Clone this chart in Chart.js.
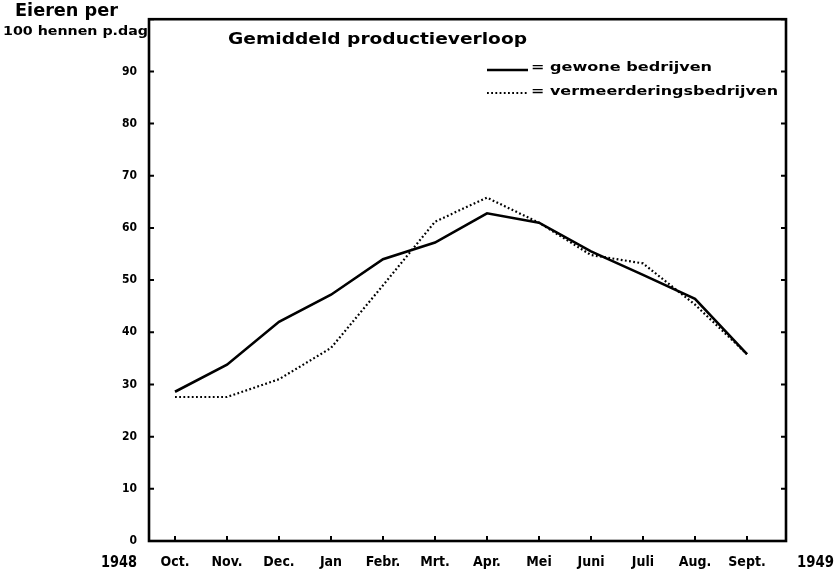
<!DOCTYPE html>
<html>
<head>
<meta charset="utf-8">
<script src="https://cdn.jsdelivr.net/npm/chart.js@4.4.1/dist/chart.umd.min.js"></script>
<style>
  html, body { margin: 0; padding: 0; background: #fff; }
  #c { display: block; }
</style>
</head>
<body>
<canvas id="c" width="839" height="578"></canvas>
<script>
// ---- data ----
const categories = ['Oct.', 'Nov.', 'Dec.', 'Jan', 'Febr.', 'Mrt.', 'Apr.', 'Mei', 'Juni', 'Juli', 'Aug.', 'Sept.'];
const gewone = [28.6, 33.8, 42, 47.2, 54, 57.2, 62.8, 61, 55.5, 51, 46.4, 35.8];
const vermeerdering = [27.6, 27.6, 31, 37, 49, 61.2, 65.8, 61, 54.8, 53.2, 45.3, 35.8];
const yTicks = [0, 10, 20, 30, 40, 50, 60, 70, 80, 90];
const seriesNames = ['= gewone bedrijven', '= vermeerderingsbedrijven'];
const titleText = 'Gemiddeld productieverloop';
const yTitle = ['Eieren per', '100 hennen p.dag'];
const years = ['1948', '1949'];

const FONT = '"DejaVu Sans Condensed", "DejaVu Sans", sans-serif';

function fitText(ctx, text, x, y, width, font) {
  ctx.save();
  ctx.font = font;
  ctx.textAlign = 'left';
  ctx.textBaseline = 'middle';
  const w = ctx.measureText(text).width;
  const s = width / w;
  ctx.translate(x, y);
  ctx.scale(s, 1);
  ctx.fillText(text, 0, 0);
  ctx.restore();
}

const decor = {
  id: 'decor',
  afterDraw(chart) {
    const ctx = chart.ctx;
    const a = chart.chartArea;
    const xs = chart.scales.x, ys = chart.scales.y;
    ctx.save();
    ctx.fillStyle = '#000';
    ctx.strokeStyle = '#000';
    // frame
    ctx.lineWidth = 2.6;
    ctx.strokeRect(a.left, a.top, a.right - a.left, a.bottom - a.top);
    // inner ticks
    ctx.lineWidth = 2;
    for (let v = 0; v <= 100; v += 10) {
      const py = ys.getPixelForValue(v);
      ctx.beginPath();
      ctx.moveTo(a.left, py); ctx.lineTo(a.left + 5, py);
      ctx.moveTo(a.right, py); ctx.lineTo(a.right - 5, py);
      ctx.stroke();
    }
    categories.forEach((c, i) => {
      const px = xs.getPixelForValue(i);
      ctx.beginPath();
      ctx.moveTo(px, a.bottom); ctx.lineTo(px, a.bottom - 5);
      ctx.stroke();
    });
    // title
    fitText(ctx, titleText, 228, 40, 299, 'bold 15px ' + FONT);
    // legend
    const ds = chart.data.datasets;
    const ly = [70, 93];
    ds.forEach((d, i) => {
      ctx.save();
      ctx.lineWidth = d.borderWidth;
      ctx.setLineDash(d.borderDash || []);
      ctx.beginPath();
      ctx.moveTo(487, ly[i]); ctx.lineTo(528, ly[i]);
      ctx.stroke();
      ctx.restore();
    });
    fitText(ctx, seriesNames[0], 531, 68, 181, 'bold 13px ' + FONT);
    fitText(ctx, seriesNames[1], 531, 92, 247, 'bold 13px ' + FONT);
    // y-axis title
    fitText(ctx, yTitle[0], 15, 12, 103, 'bold 17px ' + FONT);
    fitText(ctx, yTitle[1], 3, 32, 145, 'bold 13px ' + FONT);
    // years
    const yy = a.bottom + 22;
    fitText(ctx, years[0], 101, yy, 36, 'bold 16px ' + FONT);
    fitText(ctx, years[1], 797, yy, 37, 'bold 16px ' + FONT);
    ctx.restore();
  }
};

new Chart(document.getElementById('c'), {
  type: 'line',
  data: {
    datasets: [
      {
        label: seriesNames[0],
        data: gewone.map((v, i) => ({ x: i, y: v })),
        borderColor: '#000',
        borderWidth: 2.6,
        pointRadius: 0,
        tension: 0,
        fill: false
      },
      {
        label: seriesNames[1],
        data: vermeerdering.map((v, i) => ({ x: i, y: v })),
        borderColor: '#000',
        borderWidth: 2.2,
        borderDash: [1.8, 2.4],
        pointRadius: 0,
        tension: 0,
        fill: false
      }
    ]
  },
  options: {
    responsive: false,
    animation: false,
    devicePixelRatio: 1,
    layout: { padding: { left: 0, right: 53, top: 18, bottom: 0 } },
    plugins: { legend: { display: false }, tooltip: { enabled: false }, title: { display: false } },
    scales: {
      x: {
        type: 'linear',
        min: -0.5,
        max: 11.75,
        afterBuildTicks: (s) => { s.ticks = categories.map((c, i) => ({ value: i })); },
        afterFit: (s) => { s.height = 37; },
        grid: { display: false, drawTicks: false },
        border: { display: false },
        ticks: {
          autoSkip: false,
          maxRotation: 0,
          padding: 13,
          color: '#000',
          font: { family: FONT, size: 14, weight: 'bold' },
          callback: (v) => categories[v]
        }
      },
      y: {
        min: 0,
        max: 100,
        afterBuildTicks: (s) => { s.ticks = yTicks.map(v => ({ value: v })); },
        afterFit: (s) => { s.width = 149; },
        grid: { display: false, drawTicks: false },
        border: { display: false },
        ticks: {
          padding: 12,
          color: '#000',
          font: { family: FONT, size: 12, weight: 'bold' }
        }
      }
    }
  },
  plugins: [decor]
});
</script>
</body>
</html>
